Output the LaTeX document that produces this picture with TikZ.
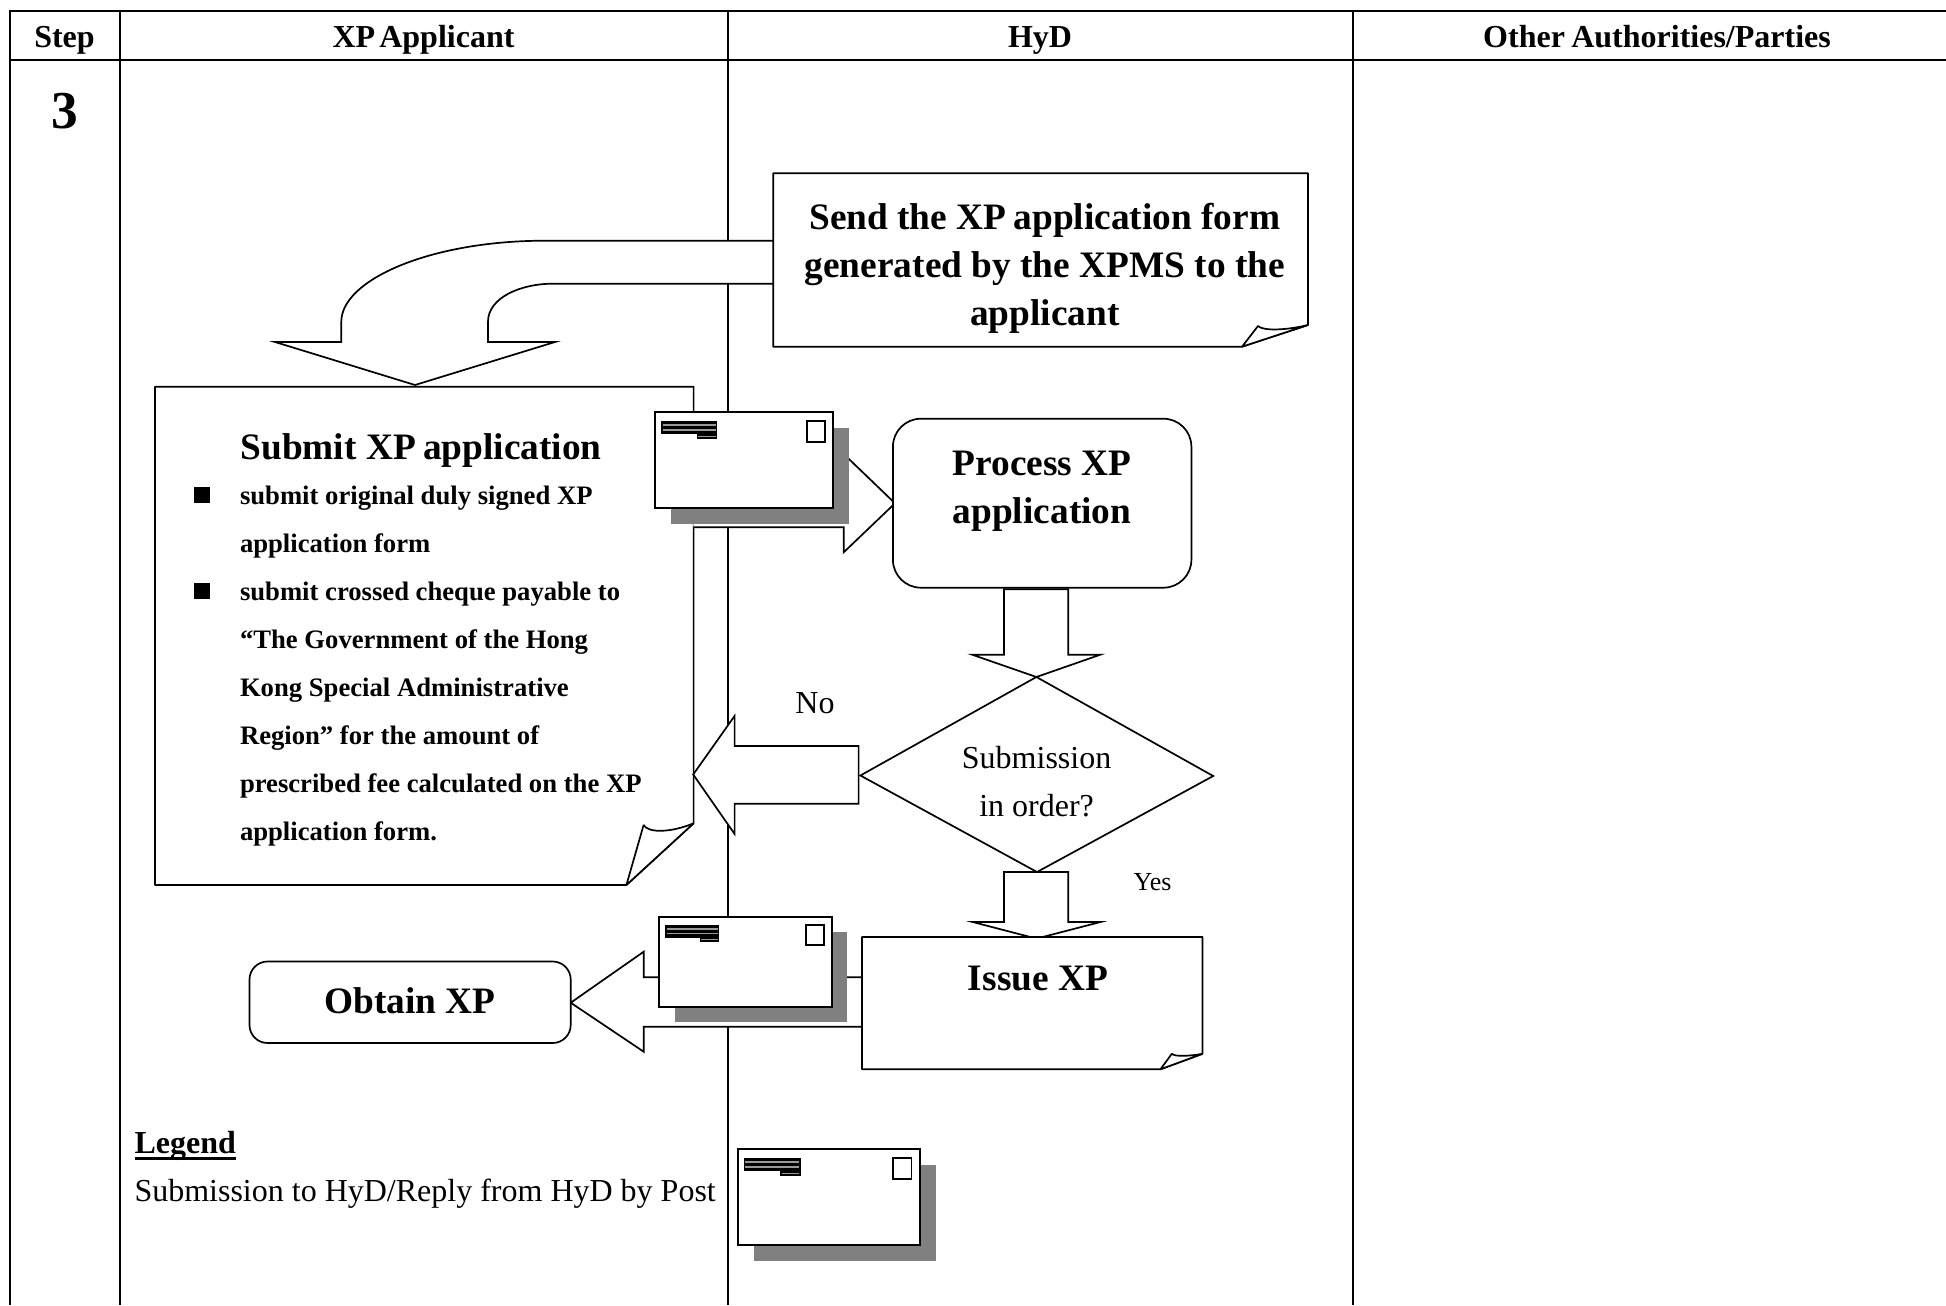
\documentclass[tikz,border=0pt]{standalone}
\usepackage{fontspec}
\setmainfont{Liberation Serif}
\newcommand\fs[1]{\fontsize{#1}{24}\selectfont}
\tikzset{
  grid/.style={line width=1pt,black},
  shp/.style={line width=0.85pt,black,fill=white,line join=miter,miter limit=20},
  fold/.style={line width=0.85pt,black,fill=white,line join=bevel},
  txt/.style={inner sep=0pt,outer sep=0pt,anchor=base},
  head/.style={txt,font=\fs{16}\bfseries},
  big/.style={txt,font=\fs{18.67}\bfseries,align=center},
  small/.style={txt,font=\fs{13.33}\bfseries,align=left},
  plain/.style={txt,font=\fs{16}},
}
\newcommand\envel[4]{%
  \begin{scope}[shift={(#1,#2)},xscale=#3,yscale=#4]
    \fill[black!50] (16,16) rectangle (194,112);
    \draw[line width=0.9pt,fill=white] (0,0) rectangle (178,96);
    \draw[line width=0.9pt,fill=white] (151.7,8.7) rectangle (170,29.7);
    \fill[black] (6.3,8.7) rectangle (61.7,22.3);
    \fill[black] (41.7,22) rectangle (61.7,26.7);
    \draw[black!40,line width=0.6pt] (7.5,13) -- (60.5,13) (7.5,18) -- (60.5,18) (43,24.4) -- (60.5,24.4);
  \end{scope}}
\begin{document}
\begin{tikzpicture}[x=0.5pt,y=-0.5pt]
\useasboundingbox (0,0) rectangle (1946,1305);
% table
\draw[grid] (10,1305) -- (10,11) -- (1946,11);
\draw[grid] (10,60) -- (1946,60);
\draw[grid] (120,11) -- (120,1305);
\draw[grid] (727.5,11) -- (727.5,1305);
\draw[grid] (1352.5,11) -- (1352.5,1305);
\node[head] (hstep) at (64.5,47.5) {Step};
\node[head] (happ) at (423.5,47.5) {XP\kern-.12em\ Applicant};
\node[head] (hhyd) at (1040,47.5) {HyD};
\node[head] (hother) at (1657,47.5) {Other\kern-.05em\ Authorities/Parties};
\node[txt,font=\fs{26.67}\bfseries] (stepno) at (64.8,129) {3};
% curved arrow
\draw[shp] (775,240.7) -- (545,240.7) .. controls (430,240.7) and (341.3,280) .. (341.3,321.7) -- (341.3,342) -- (275,342) -- (415,385) -- (555,342) -- (488,342) -- (488,321.7) .. controls (488,298) and (520,283.7) .. (553,283.7) -- (775,283.7);
% send box
\draw[fold] (773.2,173.3) -- (1308,173.3) -- (1308,325) -- (1242,346.7) -- (773.2,346.7) -- cycle;
\draw[fold] (1242,346.7) -- (1258,326) .. controls (1263,331) and (1285,330.5) .. (1308,325) -- cycle;
\node[big,anchor=north] (send) at (1044.8,203.5) {Send the XP\kern-.05em\ application form\\generated by the XPMS to the\\applicant};
% submit box
\draw[fold] (155,386.7) -- (693.6,386.7) -- (693.6,823.3) -- (626.4,885) -- (155,885) -- cycle;
\draw[fold] (626.4,885) -- (643.6,825) .. controls (648,833) and (670,833) .. (693.6,823.3) -- cycle;
\node[txt,font=\fs{18.67}\bfseries,anchor=base west] (subt) at (240.5,459) {Submit XP\kern-.05em\ application};
\fill[black] (193.6,487.2) rectangle (209.6,502.8);
\fill[black] (193.6,583.2) rectangle (209.6,598.8);
\node[small,anchor=north west] (subl) at (240,486.2) {submit original duly signed XP\\application form\\submit crossed cheque payable to\\“The Government of the Hong\\Kong Special Administrative\\Region” for the amount of\\prescribed fee calculated on the XP\\application form.};
% arrow submit -> process
\draw[shp] (693.4,480) -- (843.7,480) -- (843.7,454) -- (895,503.3) -- (843.7,552.3) -- (843.7,527.3) -- (693.4,527.3);
\envel{655}{412}{1}{1}
% process
\draw[line width=0.85pt,fill=white,rounded corners=14pt] (892.9,418.7) rectangle (1191.4,587.7);
\node[big,anchor=north] (proc) at (1042,451) {Process XP\\application};
% arrow process -> decision
\draw[shp] (1004,589.3) -- (1068.2,589.3) -- (1068.2,654.8) -- (1100,654.8) -- (1036.4,677) -- (972.5,654.8) -- (1004,654.8) -- cycle;
% decision
\draw[shp] (1036.4,677) -- (1213.2,776) -- (1037,872) -- (860.4,775.5) -- cycle;
\node[plain,align=center,anchor=north] (dec) at (1036.6,746.5) {Submission\\in order?};
\node[plain,anchor=base west] (no) at (795.4,713) {No};
% arrow no
\draw[shp] (858.6,746) -- (734.6,746) -- (734.6,715.9) -- (693.2,774.5) -- (734.6,834) -- (734.6,803.8) -- (858.6,803.8) -- cycle;
% arrow yes
\draw[shp] (1004,872) -- (1068.2,872) -- (1068.2,922) -- (1100.5,922) -- (1036.4,938.6) -- (972.7,922) -- (1004,922) -- cycle;
\node[txt,font=\fs{13},anchor=base west] (yes) at (1133.6,890) {Yes};
% obtain arrow
\draw[shp] (863,977.3) -- (643.7,977.3) -- (643.7,951.7) -- (570.7,1002.7) -- (643.7,1051.7) -- (643.7,1026.7) -- (863,1026.7);
% issue box
\draw[fold] (862,937) -- (1202.5,937) -- (1202.5,1053.8) -- (1160.4,1069.3) -- (862,1069.3) -- cycle;
\draw[fold] (1160.4,1069.3) -- (1171.8,1053.8) .. controls (1175,1057) and (1190,1056) .. (1202.5,1053.8) -- cycle;
\node[big] (issue) at (1038,990) {Issue XP};
\envel{659.3}{916.7}{0.9685}{0.944}
% obtain box
\draw[line width=0.85pt,fill=white,rounded corners=9pt] (249.5,961.5) rectangle (570.7,1043);
\node[big] (obtain) at (410,1013) {Obtain XP};
% legend
\node[txt,font=\fs{16}\bfseries,anchor=base west] (leg) at (134.5,1153.5) {Legend};
\draw[line width=1.3pt] (leg.base west)++(0,5) -- ++(101.5,0);
\node[plain,anchor=base west] (legt) at (134.5,1201.5) {Submission to HyD/Reply from HyD by Post};
\envel{737.6}{1149}{1.0225}{1}
\end{tikzpicture}
\end{document}
